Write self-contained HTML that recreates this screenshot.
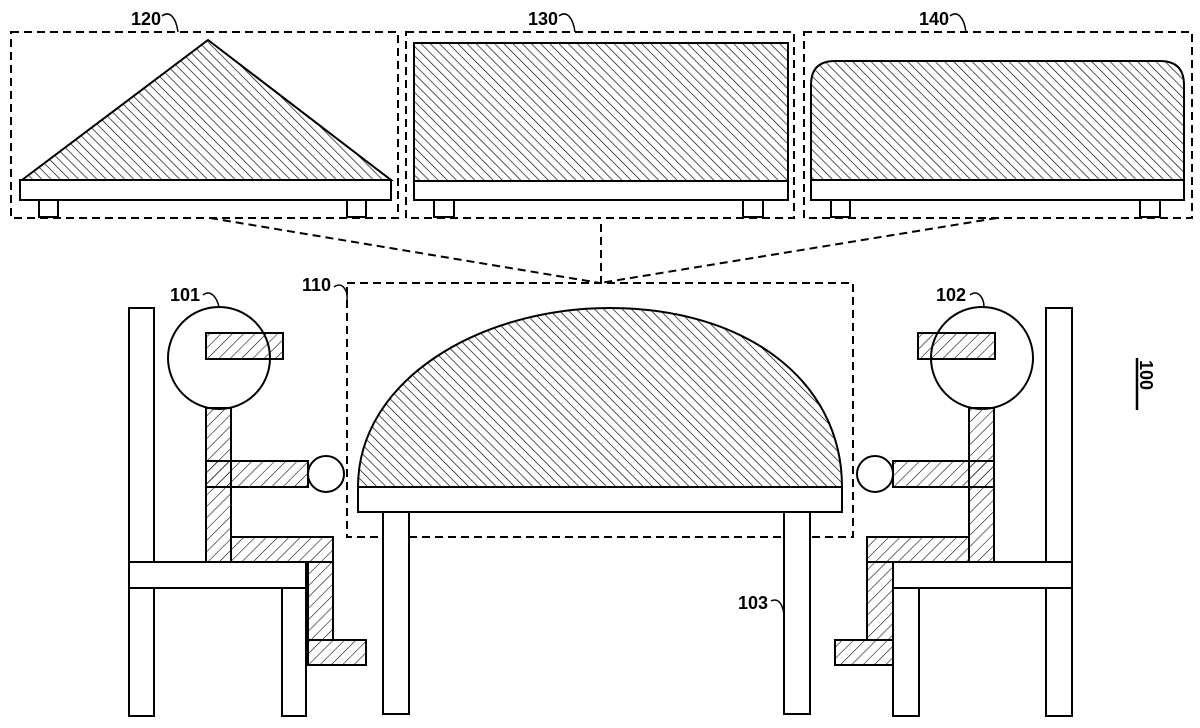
<!DOCTYPE html>
<html><head><meta charset="utf-8"><style>
html,body{margin:0;padding:0;background:#fff;}
svg{display:block;}
text{font-family:"Liberation Sans",sans-serif;font-weight:bold;font-size:18px;fill:#000;}
</style></head><body>
<svg width="1200" height="728" viewBox="0 0 1200 728" xmlns="http://www.w3.org/2000/svg">
<defs>
<pattern id="hb" patternUnits="userSpaceOnUse" width="6.5" height="6.5" patternTransform="rotate(-45)">
<line x1="0" y1="0" x2="0" y2="6.5" stroke="#000" stroke-width="1.3"/>
</pattern>
<pattern id="hf" patternUnits="userSpaceOnUse" width="8" height="8" patternTransform="rotate(45)">
<line x1="0" y1="0" x2="0" y2="8" stroke="#000" stroke-width="1.1"/>
</pattern>
</defs>
<g fill="none" stroke="#000" stroke-width="2" stroke-dasharray="8,5">
<rect x="11" y="32" width="387" height="186"/>
<rect x="406" y="32" width="388" height="186"/>
<rect x="804" y="32" width="388" height="186"/>
<rect x="347" y="283" width="506" height="254"/>
<line x1="210" y1="218" x2="600" y2="283"/>
<line x1="997" y1="218" x2="600" y2="283"/>
<line x1="601" y1="224" x2="601" y2="283"/>
</g>
<g stroke="#000" stroke-width="2" fill="#fff">
<polygon points="22,180 208,40 391,180" fill="url(#hb)"/>
<rect x="20" y="180" width="371" height="20"/>
<rect x="39" y="200" width="19" height="17"/>
<rect x="347" y="200" width="19" height="17"/>
<rect x="414" y="43" width="374" height="138" fill="url(#hb)"/>
<rect x="414" y="181" width="374" height="19"/>
<rect x="434" y="200" width="20" height="17"/>
<rect x="743" y="200" width="20" height="17"/>
<path d="M811,180 L811,85 Q811,61 835,61 L1160,61 Q1184,61 1184,85 L1184,180 Z" fill="url(#hb)"/>
<rect x="811" y="180" width="373" height="20"/>
<rect x="831" y="200" width="19" height="17"/>
<rect x="1140" y="200" width="20" height="17"/>
<path d="M358,487 C358,380 480,308 610,308 C745,308 842,380 842,487 Z" fill="url(#hb)"/>
<rect x="358" y="487" width="484" height="25"/>
<rect x="383" y="512" width="26" height="202"/>
<rect x="784" y="512" width="26" height="202"/>
<rect x="129" y="308" width="25" height="408"/>
<rect x="282" y="588" width="24" height="128"/>
<rect x="129" y="562" width="177" height="26"/>
<circle cx="219" cy="358" r="51"/>
<rect x="206" y="333" width="77" height="26" fill="url(#hf)"/>
<rect x="206" y="408" width="25" height="154" fill="url(#hf)"/>
<rect x="206" y="461" width="102" height="26" fill="url(#hf)"/>
<circle cx="326" cy="474" r="18"/>
<rect x="231" y="537" width="102" height="25" fill="url(#hf)"/>
<rect x="308" y="562" width="25" height="78" fill="url(#hf)"/>
<rect x="308" y="640" width="58" height="25" fill="url(#hf)"/>
<rect x="1046" y="308" width="26" height="408"/>
<rect x="893" y="588" width="26" height="128"/>
<rect x="893" y="562" width="179" height="26"/>
<circle cx="982" cy="358" r="51"/>
<rect x="918" y="333" width="77" height="26" fill="url(#hf)"/>
<rect x="969" y="408" width="25" height="154" fill="url(#hf)"/>
<rect x="893" y="461" width="101" height="26" fill="url(#hf)"/>
<circle cx="875" cy="474" r="18"/>
<rect x="867" y="537" width="102" height="25" fill="url(#hf)"/>
<rect x="867" y="562" width="26" height="78" fill="url(#hf)"/>
<rect x="835" y="640" width="58" height="25" fill="url(#hf)"/>
</g>
<g fill="none" stroke="#000" stroke-width="1.5">
<path d="M162,16 C170,10 176,18 178,32"/>
<path d="M559,16 C567,10 573,18 575,32"/>
<path d="M950,16 C958,10 964,18 966,32"/>
<path d="M334,287 C342,281 348,290 347,300"/>
<path d="M203,295 C211,289 217,298 219,307"/>
<path d="M970,295 C978,289 984,298 984,307"/>
<path d="M771,601 C779,597 784,606 784,618"/>
</g>
<text x="131" y="25">120</text>
<text x="528" y="25">130</text>
<text x="919" y="25">140</text>
<text x="302" y="291">110</text>
<text x="170" y="301">101</text>
<text x="936" y="301">102</text>
<text x="738" y="609">103</text>
<text x="0" y="0" transform="translate(1140,360) rotate(90)" font-size="22">100</text>
<line x1="1137" y1="358" x2="1137" y2="410" stroke="#000" stroke-width="2.5"/>
</svg>
</body></html>
